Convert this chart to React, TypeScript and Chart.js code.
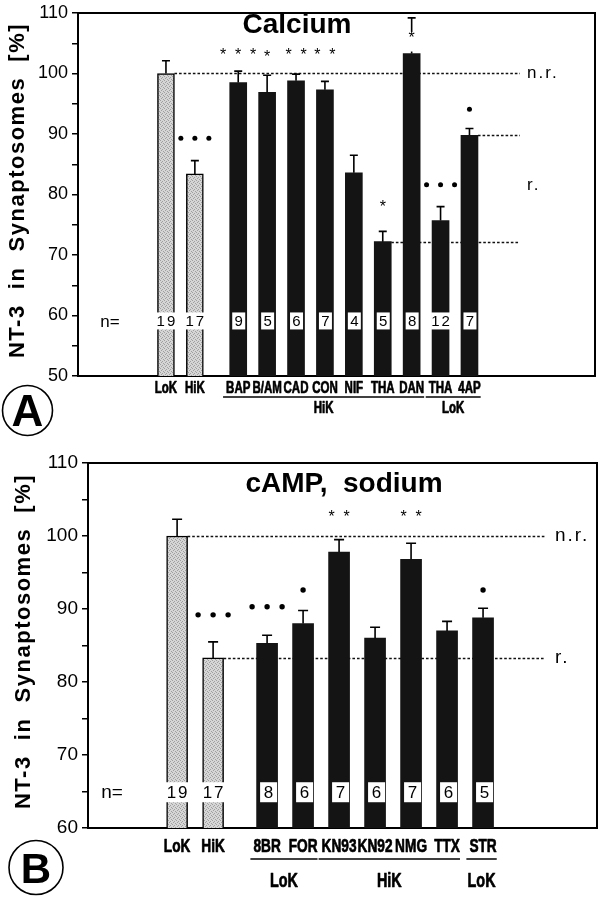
import React, { useEffect, useRef } from 'react';
import { Chart, registerables } from 'chart.js';

Chart.register(...registerables);

const SANS = '"Liberation Sans", Arial, Helvetica, sans-serif';
const Y_TITLE = 'NT-3  in  Synaptosomes  [%]';

// ---------------- Panel A: Calcium ----------------
const titleA = 'Calcium';
const categoriesA = ['LoK', 'HiK', 'BAP', 'B/AM', 'CAD', 'CON', 'NIF', 'THA', 'DAN', 'THA', '4AP'];
const valuesA = [100, 83.4, 98.5, 96.9, 98.8, 97.3, 83.6, 72.2, 103.3, 75.7, 89.8];
const semA = [2.1, 2.2, 1.9, 2.8, 1.1, 1.4, 2.9, 1.7, 5.9, 2.3, 1.1];
const nA = ['19', '17', '9', '5', '6', '7', '4', '5', '8', '12', '7'];
const controlA = [true, true, false, false, false, false, false, false, false, false, false];
const marksA = ['', '•••', '***', '*', '**', '**', '', '*', '*', '•••', '•'];
const markLevelA = [0, 89.3, 103.1, 102.8, 103.1, 103.1, 0, 78.0, 105.9, 81.6, 94.1];
const groupsA = [
  { label: 'HiK', first: 2, last: 8 },
  { label: 'LoK', first: 9, last: 10 },
];
const refLinesA = [
  { value: 100, fromBar: 0, label: 'n.r.' },
  { value: 89.8, fromBar: 10, label: '' },
  { value: 72.2, fromBar: 7, label: '' },
];
const regionLabelA = { value: 81.6, label: 'r.' };
const yRangeA = { min: 50, max: 110, step: 5, labelEvery: 10 };
const gapAfterA = 1;

// ---------------- Panel B: cAMP, sodium ----------------
const titleB = 'cAMP,  sodium';
const categoriesB = ['LoK', 'HiK', '8BR', 'FOR', 'KN93', 'KN92', 'NMG', 'TTX', 'STR'];
const valuesB = [100, 83.3, 85.3, 88.0, 97.8, 86.0, 96.8, 87.0, 88.8];
const semB = [2.3, 2.2, 1.1, 1.8, 1.7, 1.5, 2.2, 1.3, 1.3];
const nB = ['19', '17', '8', '6', '7', '6', '7', '6', '5'];
const controlB = [true, true, false, false, false, false, false, false, false];
const marksB = ['', '•••', '•••', '•', '**', '', '**', '', '•'];
const markLevelB = [0, 89.2, 90.3, 92.6, 102.7, 0, 102.7, 0, 92.6];
const groupsB = [
  { label: 'LoK', first: 2, last: 3 },
  { label: 'HiK', first: 4, last: 7 },
  { label: 'LoK', first: 8, last: 8 },
];
const refLinesB = [
  { value: 100, fromBar: 0, label: 'n.r.' },
  { value: 83.3, fromBar: 1, label: 'r.' },
];
const yRangeB = { min: 60, max: 110, step: 5, labelEvery: 10 };
const gapAfterB = 1;

type RefLine = { value: number; fromBar: number; label: string };
type Group = { label: string; first: number; last: number };

interface PanelData {
  title: string;
  letter: string;
  categories: string[];
  values: number[];
  sem: number[];
  n: string[];
  control: boolean[];
  marks: string[];
  markLevel: number[];
  groups: Group[];
  refs: RefLine[];
  region?: { value: number; label: string };
  yRange: { min: number; max: number; step: number; labelEvery: number };
  gapAfter: number;
}

const panelA: PanelData = {
  title: titleA, letter: 'A', categories: categoriesA, values: valuesA, sem: semA, n: nA,
  control: controlA, marks: marksA, markLevel: markLevelA, groups: groupsA, refs: refLinesA,
  region: regionLabelA, yRange: yRangeA, gapAfter: gapAfterA,
};
const panelB: PanelData = {
  title: titleB, letter: 'B', categories: categoriesB, values: valuesB, sem: semB, n: nB,
  control: controlB, marks: marksB, markLevel: markLevelB, groups: groupsB, refs: refLinesB,
  yRange: yRangeB, gapAfter: gapAfterB,
};

// layout / style per panel
const styleA = {
  height: 440, top: 0, padTop: 8, padRight: 6, yWidth: 78, xHeight: 64,
  xMin: -2.23, xMax: 14.03, barThickness: 17,
  tickFont: 18, xLabelFont: 16, xLabelScale: 0.72, xLabelDy: 17,
  capHalf: 4, errWidth: 1.6,
  nLevel: 59.1, nBoxH: 17, nFont: 15, nEqX: 110, nEqFont: 17, boxInL: 2.5, boxInR: 1.5,
  dotR: 2.5, dotSp: 14, starFont: 16, starSp: 15,
  titleX: 297, titleY: 25, titleFont: 28,
  yTitleX: 18, yTitleFont: 22,
  refEnd: 520, refLabelX: 527, refFont: 17,
  groupLineDy: 21, groupTextDy: 37, groupFont: 16,
  circleX: 27.5, circleY: 410.5, circleR: 25, circleFont: 44,
};
const styleB = {
  height: 459, top: 440, padTop: 23, padRight: 4, yWidth: 88, xHeight: 71,
  xMin: -1.69, xMax: 10.88, barThickness: 21,
  tickFont: 19, xLabelFont: 19, xLabelScale: 0.72, xLabelDy: 24,
  capHalf: 5, errWidth: 1.6,
  nLevel: 64.9, nBoxH: 20, nFont: 17, nEqX: 112, nEqFont: 19, boxInL: 3.5, boxInR: 0.5,
  dotR: 2.7, dotSp: 15, starFont: 16, starSp: 15,
  titleX: 344, titleY: 44, titleFont: 28,
  yTitleX: 24, yTitleFont: 22,
  refEnd: 545, refLabelX: 555, refFont: 19,
  groupLineDy: 31, groupTextDy: 59, groupFont: 20,
  circleX: 36, circleY: 427.5, circleR: 27, circleFont: 42,
};
type Style = typeof styleA;

function makeStipple(): CanvasPattern | string {
  const c = document.createElement('canvas');
  c.width = 4;
  c.height = 4;
  const g = c.getContext('2d');
  if (!g) return '#c8c8c8';
  g.fillStyle = '#d6d6d6';
  g.fillRect(0, 0, 4, 4);
  g.fillStyle = '#a0a0a0';
  g.fillRect(0, 0, 1, 1);
  g.fillRect(2, 1, 1, 1);
  g.fillRect(1, 2, 1, 1);
  g.fillRect(3, 3, 1, 1);
  const p = g.createPattern(c, 'repeat');
  return p || '#c8c8c8';
}

// condensed heavy label: horizontally squeezed bold text with a thin outline for weight
function narrowText(ctx: CanvasRenderingContext2D, text: string, x: number, y: number, sx: number) {
  ctx.save();
  ctx.translate(x, y);
  ctx.scale(sx, 1);
  ctx.textAlign = 'center';
  ctx.textBaseline = 'alphabetic';
  ctx.fillStyle = '#000';
  ctx.strokeStyle = '#000';
  ctx.lineWidth = 0.7;
  ctx.lineJoin = 'round';
  ctx.fillText(text, 0, 0);
  ctx.strokeText(text, 0, 0);
  ctx.restore();
}

function makePlugin(d: PanelData, s: Style) {
  return {
    id: 'panelExtras' + d.letter,
    beforeDatasetsDraw(chart: any) {
      const { ctx } = chart;
      const y = chart.scales.y;
      const meta = chart.getDatasetMeta(0);
      ctx.save();
      ctx.strokeStyle = '#111';
      ctx.lineWidth = 1.6;
      ctx.setLineDash([2.6, 2]);
      d.refs.forEach((r) => {
        const bar: any = meta.data[r.fromBar];
        const x0 = bar.x + bar.width / 2;
        const yy = Math.round(y.getPixelForValue(r.value)) + 0.5;
        ctx.beginPath();
        ctx.moveTo(x0, yy);
        ctx.lineTo(s.refEnd, yy);
        ctx.stroke();
      });
      ctx.restore();
    },
    afterDatasetsDraw(chart: any) {
      const { ctx } = chart;
      const y = chart.scales.y;
      const meta = chart.getDatasetMeta(0);
      ctx.save();
      // error bars (upper only)
      ctx.strokeStyle = '#000';
      ctx.lineWidth = s.errWidth;
      d.values.forEach((v, i) => {
        const bar: any = meta.data[i];
        const ye = y.getPixelForValue(v + d.sem[i]);
        ctx.beginPath();
        ctx.moveTo(bar.x, bar.y);
        ctx.lineTo(bar.x, ye);
        ctx.moveTo(bar.x - s.capHalf, ye);
        ctx.lineTo(bar.x + s.capHalf, ye);
        ctx.stroke();
      });
      // significance marks
      d.marks.forEach((m, i) => {
        if (!m) return;
        const bar: any = meta.data[i];
        const yc = y.getPixelForValue(d.markLevel[i]);
        const count = m.length;
        const isDot = m[0] === '•';
        const sp = isDot ? s.dotSp : s.starSp;
        if (d.markLevel[i] < d.values[i] + d.sem[i]) {
          ctx.fillStyle = '#fff';
          ctx.fillRect(bar.x - 6, yc - 6, 12, bar.y - 2 - (yc - 6));
        }
        ctx.fillStyle = '#000';
        for (let k = 0; k < count; k++) {
          const xx = bar.x + (k - (count - 1) / 2) * sp;
          if (isDot) {
            ctx.beginPath();
            ctx.arc(xx, yc, s.dotR, 0, Math.PI * 2);
            ctx.fill();
          } else {
            ctx.font = `${s.starFont}px ${SANS}`;
            ctx.textAlign = 'center';
            ctx.textBaseline = 'alphabetic';
            ctx.fillText('*', xx, yc + 0.58 * s.starFont - 4);
          }
        }
      });
      // n labels
      const yn = y.getPixelForValue(s.nLevel);
      d.n.forEach((txt, i) => {
        const bar: any = meta.data[i];
        const left = bar.x - bar.width / 2;
        const right = bar.x + bar.width / 2;
        let bx0: number;
        let bx1: number;
        if (d.control[i] || txt.length > 1) {
          bx0 = left - 1;
          bx1 = right + 1;
        } else {
          bx0 = left + s.boxInL;
          bx1 = right - s.boxInR;
        }
        ctx.fillStyle = '#fff';
        ctx.fillRect(bx0, yn - s.nBoxH / 2, bx1 - bx0, s.nBoxH);
        ctx.fillStyle = '#000';
        ctx.font = `${s.nFont}px ${SANS}`;
        ctx.textAlign = 'center';
        ctx.textBaseline = 'middle';
        (ctx as any).letterSpacing = txt.length > 1 ? '2px' : '0px';
        ctx.fillText(txt, (bx0 + bx1) / 2 + (txt.length > 1 ? 1 : 0), yn + 1);
        (ctx as any).letterSpacing = '0px';
      });
      ctx.font = `${s.nEqFont}px ${SANS}`;
      ctx.textAlign = 'center';
      ctx.textBaseline = 'middle';
      ctx.fillText('n=', s.nEqX, yn + 1);
      ctx.restore();
    },
    afterDraw(chart: any) {
      const { ctx, chartArea } = chart;
      const y = chart.scales.y;
      const meta = chart.getDatasetMeta(0);
      ctx.save();
      // frame top & right
      ctx.strokeStyle = '#000';
      ctx.lineWidth = 2;
      ctx.beginPath();
      ctx.moveTo(chartArea.left, chartArea.top);
      ctx.lineTo(chartArea.right, chartArea.top);
      ctx.lineTo(chartArea.right, chartArea.bottom);
      ctx.stroke();
      // title
      ctx.fillStyle = '#000';
      ctx.font = `bold ${s.titleFont}px ${SANS}`;
      ctx.textAlign = 'center';
      ctx.textBaseline = 'middle';
      ctx.fillText(d.title, s.titleX, s.titleY);
      // reference labels
      ctx.font = `${s.refFont}px ${SANS}`;
      ctx.textAlign = 'left';
      (ctx as any).letterSpacing = '2px';
      d.refs.forEach((r) => {
        if (r.label) ctx.fillText(r.label, s.refLabelX, y.getPixelForValue(r.value));
      });
      if (d.region) ctx.fillText(d.region.label, s.refLabelX, y.getPixelForValue(d.region.value));
      (ctx as any).letterSpacing = '0px';
      // category labels under bars (condensed bold)
      ctx.font = `bold ${s.xLabelFont}px ${SANS}`;
      d.categories.forEach((c, i) => {
        const bar: any = meta.data[i];
        narrowText(ctx, c, bar.x, chartArea.bottom + s.xLabelDy, s.xLabelScale);
      });
      // group underlines and labels
      d.groups.forEach((g) => {
        ctx.font = `bold ${s.xLabelFont}px ${SANS}`;
        const b0: any = meta.data[g.first];
        const b1: any = meta.data[g.last];
        const w0 = ctx.measureText(d.categories[g.first]).width * s.xLabelScale;
        const w1 = ctx.measureText(d.categories[g.last]).width * s.xLabelScale;
        const x0 = b0.x - w0 / 2 - 3;
        const x1 = b1.x + w1 / 2;
        const ly = chartArea.bottom + s.groupLineDy;
        ctx.strokeStyle = '#000';
        ctx.lineWidth = 1.5;
        ctx.beginPath();
        ctx.moveTo(x0, ly);
        ctx.lineTo(x1, ly);
        ctx.stroke();
        ctx.font = `bold ${s.groupFont}px ${SANS}`;
        narrowText(ctx, g.label, (x0 + x1) / 2, chartArea.bottom + s.groupTextDy, s.xLabelScale);
      });
      // y title
      ctx.save();
      ctx.translate(s.yTitleX, (chartArea.top + chartArea.bottom) / 2 - 4);
      ctx.rotate(-Math.PI / 2);
      ctx.fillStyle = '#000';
      ctx.font = `bold ${s.yTitleFont}px ${SANS}`;
      ctx.textAlign = 'center';
      ctx.textBaseline = 'middle';
      (ctx as any).letterSpacing = '1.5px';
      ctx.fillText(Y_TITLE, 0, 0);
      ctx.restore();
      // panel letter
      ctx.strokeStyle = '#000';
      ctx.lineWidth = 1.6;
      ctx.beginPath();
      ctx.arc(s.circleX, s.circleY, s.circleR, 0, Math.PI * 2);
      ctx.stroke();
      ctx.fillStyle = '#000';
      ctx.font = `bold ${s.circleFont}px ${SANS}`;
      ctx.textAlign = 'center';
      ctx.textBaseline = 'alphabetic';
      ctx.fillText(d.letter, s.circleX, s.circleY + s.circleFont * 0.36);
      ctx.restore();
    },
  };
}

function Panel({ d, s }: { d: PanelData; s: Style }) {
  const ref = useRef<HTMLCanvasElement>(null);
  useEffect(() => {
    const canvas = ref.current;
    if (!canvas) return;
    const pattern = makeStipple();
    const pos = d.categories.map((_, i) => i + (i > d.gapAfter ? 0.5 : 0));
    const chart = new Chart(canvas, {
      type: 'bar',
      data: {
        datasets: [
          {
            data: d.values.map((v, i) => ({ x: pos[i], y: v })) as any,
            backgroundColor: d.control.map((c) => (c ? pattern : '#141414')) as any,
            borderColor: '#000',
            borderWidth: d.control.map((c) => (c ? 1.5 : 0)) as any,
            barThickness: s.barThickness,
          },
        ],
      },
      options: {
        responsive: false,
        animation: false,
        events: [],
        layout: { padding: { top: s.padTop, right: s.padRight, left: 0, bottom: 0 } },
        plugins: { legend: { display: false }, tooltip: { enabled: false }, title: { display: false } },
        scales: {
          x: {
            type: 'linear',
            min: s.xMin,
            max: s.xMax,
            afterBuildTicks: (axis: any) => {
              axis.ticks = pos.map((v) => ({ value: v }));
            },
            afterFit: (axis: any) => {
              axis.height = s.xHeight;
            },
            ticks: { display: false },
            grid: { display: false, drawTicks: false },
            border: { display: true, color: '#000', width: 2 },
          },
          y: {
            min: d.yRange.min,
            max: d.yRange.max,
            afterFit: (axis: any) => {
              axis.width = s.yWidth;
            },
            ticks: {
              stepSize: d.yRange.step,
              autoSkip: false,
              padding: 4,
              color: '#000',
              font: { family: SANS, size: s.tickFont, lineHeight: 1 },
              callback: (v: any) => (Number(v) % d.yRange.labelEvery === 0 ? String(v) : ''),
            },
            grid: { display: true, drawOnChartArea: false, drawTicks: true, tickLength: 6, color: '#000', lineWidth: 1.5 },
            border: { display: true, color: '#000', width: 2 },
          },
        },
      } as any,
      plugins: [makePlugin(d, s)],
    });
    return () => chart.destroy();
  }, []);
  return (
    <canvas
      ref={ref}
      width={601}
      height={s.height}
      style={{ position: 'absolute', left: 0, top: s.top, width: 601, height: s.height, display: 'block' }}
    />
  );
}

export default function App() {
  return (
    <div style={{ position: 'absolute', left: 0, top: 0, width: 601, height: 899, background: '#fff', overflow: 'hidden' }}>
      <Panel d={panelA} s={styleA} />
      <Panel d={panelB} s={styleB} />
    </div>
  );
}
